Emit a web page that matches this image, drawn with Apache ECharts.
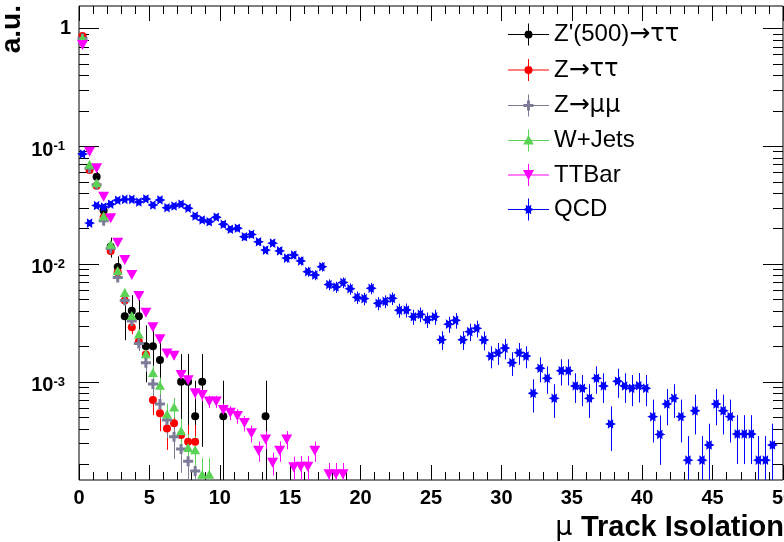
<!DOCTYPE html>
<html>
<head>
<meta charset="utf-8">
<script src="https://cdn.jsdelivr.net/npm/echarts@6/dist/echarts.min.js"></script>
<style>
  html, body { margin: 0; padding: 0; background: #ffffff; }
  #chart { width: 784px; height: 542px; }
</style>
</head>
<body>
<div id="chart"></div>
<script>
// Histogram binning of the track-isolation variable (0..50, 0.5 wide bins)
const BIN_WIDTH = 0.5;
const X_MIN = 0, X_MAX = 50;
const Y_MIN = 1.465e-4, Y_MAX = 1.546;

const xTickLabels = ['0', '5', '10', '15', '20', '25', '30', '35', '40', '45', '50'];
const yTickLabels = { '1': '1', '0.1': '10^-1', '0.01': '10^-2', '0.001': '10^-3' };

const seriesNames = ["Z'(500)\u2192\u03c4\u03c4", 'Z\u2192\u03c4\u03c4', 'Z\u2192\u03bc\u03bc', 'W+Jets', 'TTBar', 'QCD'];

// Normalised bin contents (a.u.) and their uncertainties, bin by bin from 0
const zprimeVals = [0.84, 0.065, 0.055, 0.0284, 0.014, 0.0094, 0.0036, 0.0040, 0.0036, 0.0020,
  0.0020, 0.00153, null, null, 0.0010, 0.0010, 0.00051, 0.0010, null, null,
  0.00051, null, null, null, null, null, 0.00051];
const zprimeErrs = [0.0207, 0.0058, 0.0053, 0.0038, 0.0027, 0.0022, 0.00135, 0.00143, 0.00135, 0.00101,
  0.00101, 0.00088, null, null, 0.00072, 0.00072, 0.00051, 0.00072, null, null,
  0.00051, null, null, null, null, null, 0.00051];

const zTauTauVals = [0.86, 0.0627, 0.046, 0.0249, 0.0129, 0.0085, 0.0049, 0.0029, 0.0022, 0.0017,
  0.0007, 0.00054, 0.0004, 0.000444, 0.000353, 0.00031, 0.00031];
const zTauTauErrs = [0.0063, 0.0017, 0.00145, 0.00107, 0.00077, 0.00063, 0.00047, 0.00037, 0.00032, 0.00028,
  0.00018, 0.00016, 0.000136, 0.000143, 0.000127, 0.000119, 0.000119];

const zMuMuVals = [0.82, 0.065, 0.047, 0.0233, 0.0135, 0.00767, 0.0049, 0.00327, 0.00211, 0.00145,
  0.000955, 0.000647, 0.000473, 0.000341, 0.000269, 0.000211, 0.000175];
const zMuMuErrs = [0.0057, 0.0016, 0.0014, 0.00097, 0.00074, 0.00055, 0.00044, 0.00036, 0.00029, 0.00024,
  0.0002, 0.00016, 0.00014, 0.00012, 0.0001, 0.00009, 0.00008];

const wJetsVals = [0.822, 0.0701, 0.0489, 0.0255, 0.0147, 0.00879, 0.00572, 0.00365, 0.00254, 0.00173,
  0.0012, 0.000932, 0.000532, 0.00061, 0.000383, 0.000277, 0.000265, 0.000164, 0.000164];
const wJetsErrs = [0.0045, 0.0013, 0.0011, 0.0008, 0.00061, 0.00047, 0.00038, 0.0003, 0.00025, 0.00021,
  0.00017, 0.00015, 0.00012, 0.00012, 0.0001, 0.00008, 0.00008, 0.00006, 0.00006];

const ttBarVals = [0.72, 0.0896, 0.0648, 0.0372, 0.0244, 0.0151, 0.0108, 0.00805, 0.00534, 0.00385,
  0.0029, 0.00229, 0.00174, 0.00166, 0.00114, 0.00103, 0.0008, 0.00077, 0.00068, 0.00068,
  0.000575, 0.000546, 0.000512, 0.000446, 0.000365, 0.00026, 0.000324, 0.000205, 0.00026, 0.000324,
  0.000188, 0.00019, 0.00019, 0.00026, null, 0.000164, 0.000164, 0.000164];
const ttBarErrs = [0.0027, 0.00095, 0.0008, 0.00061, 0.00049, 0.00039, 0.00033, 0.00028, 0.00023, 0.0002,
  0.00017, 0.00015, 0.00013, 0.00013, 0.00011, 0.0001, 0.00009, 0.00009, 0.00008, 0.00008,
  0.000076, 0.000074, 0.000072, 0.000067, 0.00006, 0.000051, 0.000057, 0.000045, 0.000051, 0.000057,
  0.000043, 0.000044, 0.000044, 0.000051, null, 0.00004, 0.00004, 0.00004];

const qcdVals = [0.0857, 0.0222, 0.0313, 0.0304, 0.0321, 0.0347, 0.0353, 0.0353, 0.0335, 0.0356,
  0.0316, 0.0349, 0.0300, 0.0310, 0.0321, 0.0297, 0.0255, 0.0236, 0.0228, 0.0249,
  0.0217, 0.0197, 0.0201, 0.0170, 0.0178, 0.0154, 0.0131, 0.0150, 0.0129, 0.0112,
  0.0119, 0.0106, 0.00859, 0.00805, 0.00947, 0.00668, 0.00637, 0.00695, 0.00616, 0.00520,
  0.00507, 0.00621, 0.00463, 0.00481, 0.00510, 0.00404, 0.00406, 0.00356, 0.00373, 0.00336,
  0.00356, 0.00227, 0.00308, 0.00332, 0.00227, 0.00266, 0.00284, 0.00226, 0.00165, 0.00176,
  0.00193, 0.00145, 0.00176, 0.00165, 0.000798, 0.00130, 0.00107, 0.000723, 0.00124, 0.00124,
  0.000920, 0.000880, 0.000723, 0.00107, 0.000920, 0.000438, 0.00101, 0.000920, 0.000880, 0.000925,
  0.000880, 0.000505, 0.000357, 0.000647, 0.000723, 0.000505, 0.000216, 0.000567, 0.000216, 0.000290,
  0.000647, 0.000567, 0.000505, 0.000360, 0.000360, 0.000360, 0.000216, 0.000216, 0.000290, null];
const qcdErrs = [0.00255, 0.0013, 0.00154, 0.00152, 0.00156, 0.00162, 0.00164, 0.00164, 0.00159, 0.00164,
  0.00155, 0.00163, 0.00151, 0.00153, 0.00156, 0.0015, 0.00139, 0.00134, 0.00131, 0.00137,
  0.00128, 0.00122, 0.00123, 0.00114, 0.00116, 0.00108, 0.001, 0.00107, 0.00099, 0.00092,
  0.00095, 0.0009, 0.00081, 0.00078, 0.00085, 0.00071, 0.00069, 0.00073, 0.00068, 0.00063,
  0.00062, 0.00069, 0.00059, 0.0006, 0.00062, 0.00055, 0.00055, 0.00052, 0.00053, 0.0005,
  0.00052, 0.00041, 0.00048, 0.0005, 0.00041, 0.00045, 0.00046, 0.00041, 0.00035, 0.00037,
  0.00038, 0.00033, 0.00037, 0.00035, 0.00025, 0.00031, 0.00028, 0.00023, 0.00031, 0.00031,
  0.00026, 0.00026, 0.00023, 0.00028, 0.00026, 0.00018, 0.00028, 0.00026, 0.00026, 0.00026,
  0.00026, 0.0002, 0.00016, 0.00022, 0.00023, 0.0002, 0.00013, 0.00021, 0.00013, 0.00015,
  0.00022, 0.00021, 0.0002, 0.00016, 0.00016, 0.00016, 0.00013, 0.00013, 0.00015, null];

const FONT = '"Liberation Sans", Arial, Helvetica, sans-serif';
const SYM_FONT = '"DejaVu Sans", sans-serif';

// ---- marker shapes -------------------------------------------------------
function starPoints(cx, cy, rOut, rIn, n, startDeg) {
  const pts = [];
  for (let i = 0; i < 2 * n; i++) {
    const r = i % 2 === 0 ? rOut : rIn;
    const a = (startDeg + i * 180 / n) * Math.PI / 180;
    pts.push([cx + r * Math.cos(a), cy + r * Math.sin(a)]);
  }
  return 'M' + pts.map(p => p[0].toFixed(2) + ',' + p[1].toFixed(2)).join('L') + 'Z';
}
const starPath = starPoints(0, 0, 10, 5.2, 6, 0);
const plusPath = 'M-1.5,-5H1.5V-1.5H5V1.5H1.5V5H-1.5V1.5H-5V-1.5H-1.5Z';

// legend glyph: horizontal line, vertical error line and the marker (41 x 22 box)
const LEG_LINES = 'M0,10.5H41V11.5H0Z M20,0H21V22H20Z ';
const legendIcons = [
  'path://' + LEG_LINES + 'M16.5,11A4,4,0,1,1,24.5,11A4,4,0,1,1,16.5,11Z',
  'path://' + LEG_LINES + 'M16.5,11A4,4,0,1,1,24.5,11A4,4,0,1,1,16.5,11Z',
  'path://' + LEG_LINES + 'M19,6H22V9.5H25.5V12.5H22V16H19V12.5H15.5V9.5H19Z',
  'path://' + LEG_LINES + 'M20.5,5.5L25.8,15H15.2Z',
  'path://' + LEG_LINES + 'M15,6H26L20.5,16Z',
  'path://' + LEG_LINES + starPoints(20.5, 11, 5.5, 2.9, 6, 0)
];

const colors = ['#000000', '#ff0000', '#7c7c98', '#5ad255', '#ff00ff', '#0000ff'];
const markers = [
  { symbol: 'circle', size: 8, rotate: 0 },
  { symbol: 'circle', size: 8, rotate: 0 },
  { symbol: 'path://' + plusPath, size: 10, rotate: 0 },
  { symbol: 'triangle', size: [10, 9], rotate: 0 },
  { symbol: 'triangle', size: [11, 10], rotate: 180 },
  { symbol: 'path://' + starPath, size: [11, 9.6], rotate: 0 }
];
const valueSets = [zprimeVals, zTauTauVals, zMuMuVals, wJetsVals, ttBarVals, qcdVals];
const errorSets = [zprimeErrs, zTauTauErrs, zMuMuErrs, wJetsErrs, ttBarErrs, qcdErrs];

function binCenter(i) { return X_MIN + (i + 0.5) * BIN_WIDTH; }

function points(vals, errs) {
  const out = [];
  vals.forEach((v, i) => { if (v != null) out.push([binCenter(i), v, errs[i]]); });
  return out;
}

function errorBarSeries(idx) {
  const color = colors[idx];
  return {
    type: 'custom', name: seriesNames[idx] + ' unc', silent: true,
    data: points(valueSets[idx], errorSets[idx]),
    encode: { x: 0, y: 1 },
    renderItem(params, api) {
      const cs = params.coordSys;
      const x = api.value(0), v = api.value(1), e = api.value(2);
      const top = api.coord([x, v + e]);
      const lo = v - e;
      let yb = lo > 0 ? api.coord([x, lo])[1] : cs.y + cs.height;
      yb = Math.min(yb, cs.y + cs.height);
      const yt = Math.max(top[1], cs.y);
      const px = Math.round(top[0]) + 0.5;
      return { type: 'line', shape: { x1: px, y1: yt, x2: px, y2: yb },
        style: { stroke: color, lineWidth: 1 } };
    }
  };
}

function markerSeries(idx) {
  const m = markers[idx];
  return {
    type: 'scatter', name: seriesNames[idx],
    data: points(valueSets[idx], errorSets[idx]).map(p => [p[0], p[1]]),
    symbol: m.symbol, symbolSize: m.size, symbolRotate: m.rotate,
    itemStyle: { color: colors[idx], opacity: 1 },
    emphasis: { disabled: true }
  };
}

// log-axis tick marks (decades long, 2..9 short) on left and right frame sides
const yTicks = [];
for (let e = -4; e <= 0; e++) {
  for (let m = 1; m <= 9; m++) {
    const v = m * Math.pow(10, e);
    if (v >= Y_MIN && v <= Y_MAX) yTicks.push([X_MIN, v, m === 1 ? 1 : 0]);
  }
}
const yTickSeries = {
  type: 'custom', name: 'yticks', silent: true, data: yTicks, encode: { x: 0, y: 1 },
  renderItem(params, api) {
    const v = api.value(1);
    const len = api.value(2) ? 20 : 10;
    const l = api.coord([X_MIN, v]);
    const r = api.coord([X_MAX, v]);
    const y = Math.round(l[1]) + 0.5;
    return { type: 'group', children: [
      { type: 'line', shape: { x1: l[0], y1: y, x2: l[0] + len, y2: y }, style: { stroke: '#000', lineWidth: 1 } },
      { type: 'line', shape: { x1: r[0] - len, y1: y, x2: r[0], y2: y }, style: { stroke: '#000', lineWidth: 1 } }
    ] };
  }
};

const series = [yTickSeries];
for (let i = 0; i < 6; i++) { series.push(errorBarSeries(i)); series.push(markerSeries(i)); }

const xAxisBase = {
  type: 'value', min: X_MIN, max: X_MAX, interval: 5,
  axisLine: { show: false },
  axisTick: { show: true, inside: true, length: 15, lineStyle: { color: '#000', width: 1 } },
  minorTick: { show: true, splitNumber: 5, length: 8, lineStyle: { color: '#000', width: 1 } },
  splitLine: { show: false }
};

// legend names: arrows and Greek letters set in a symbol-friendly face
function legendRich(name) {
  return name.split('').map(ch => {
    if (ch === '\u2192') return '{a|\u2192}';
    if (ch === '\u03c4' || ch === '\u03bc') return '{g|' + ch + '}';
    return '{t|' + ch + '}';
  }).join('');
}

const chart = echarts.init(document.getElementById('chart'), null, { renderer: 'canvas' });
chart.setOption({
  animation: false,
  backgroundColor: '#ffffff',
  grid: { left: 79, right: 1, top: 6, bottom: 62, show: true, borderColor: '#000', borderWidth: 1,
    backgroundColor: 'transparent', containLabel: false, outerBoundsMode: 'none' },
  xAxis: [
    Object.assign({}, xAxisBase, {
      position: 'bottom',
      axisLabel: { show: true, margin: 8, color: '#000', fontFamily: FONT, fontWeight: 'bold', fontSize: 20,
        hideOverlap: false, formatter: v => xTickLabels[Math.round(v / 5)] }
    }),
    Object.assign({}, xAxisBase, { position: 'top', axisLabel: { show: false } })
  ],
  yAxis: {
    type: 'log', min: Y_MIN, max: Y_MAX, logBase: 10,
    axisLine: { show: false }, axisTick: { show: false }, minorTick: { show: false },
    splitLine: { show: false },
    axisLabel: {
      show: true, margin: 8, color: '#000', fontFamily: FONT,
      padding: [8, 0, 0, 0],
      formatter: v => {
        const key = String(+v.toPrecision(6));
        const lab = yTickLabels[key];
        if (!lab) return '';
        if (lab === '1') return '{one|1}';
        const parts = lab.split('^');
        return '{b|' + parts[0] + '}{s|' + parts[1] + '}';
      },
      rich: {
        one: { fontFamily: FONT, fontWeight: 'bold', fontSize: 20, lineHeight: 20, padding: [0, 0, 8, 0] },
        b: { fontFamily: FONT, fontWeight: 'bold', fontSize: 20, lineHeight: 20, verticalAlign: 'bottom', padding: [0, 0, 0, 4] },
        s: { fontFamily: FONT, fontWeight: 'bold', fontSize: 13, lineHeight: 13, verticalAlign: 'top', padding: [0, 6, 0, 0] }
      }
    }
  },
  legend: {
    orient: 'vertical', left: 508, top: 22, padding: 0, itemWidth: 41, itemHeight: 22, itemGap: 10.5,
    selectedMode: false,
    formatter: legendRich,
    textStyle: { color: '#000', fontFamily: FONT, fontSize: 24, lineHeight: 22,
      rich: {
        t: { fontFamily: FONT, fontSize: 24, lineHeight: 22, color: '#000' },
        a: { fontFamily: SYM_FONT, fontSize: 25, lineHeight: 22, color: '#000' },
        g: { fontFamily: SYM_FONT, fontSize: 24, lineHeight: 22, color: '#000' }
      } },
    data: seriesNames.map((n, i) => ({ name: n, icon: legendIcons[i], itemStyle: { color: colors[i] } }))
  },
  graphic: [
    { type: 'text', right: 0, top: 513,
      style: { text: '{mu|\u03bc }{b|Track Isolation}', fill: '#000',
        rich: { mu: { fontFamily: SYM_FONT, fontSize: 27, fill: '#000' },
                b: { fontFamily: FONT, fontSize: 29, fontWeight: 'bold', fill: '#000' } } } },
    { type: 'text', x: 12, y: 5, rotation: Math.PI / 2,
      style: { text: 'a.u.', fill: '#000', font: 'bold 28px ' + FONT, align: 'right', verticalAlign: 'middle' } }
  ],
  series: series
});
</script>
</body>
</html>
